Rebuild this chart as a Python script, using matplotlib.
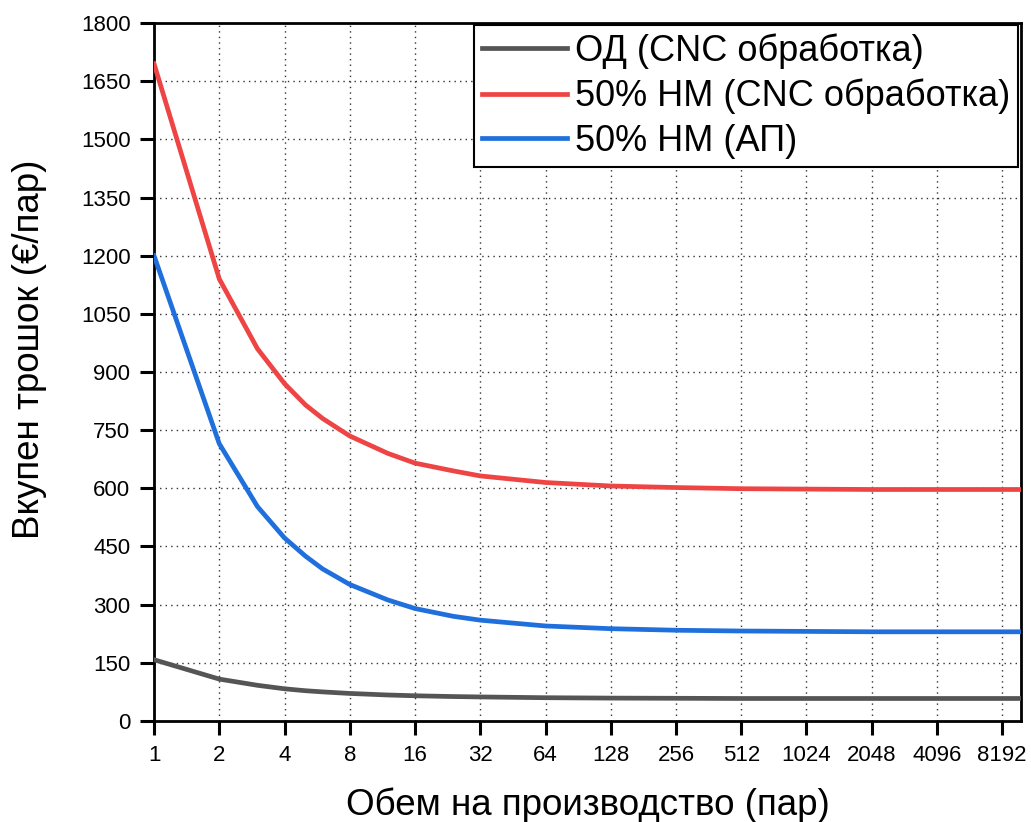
import matplotlib
matplotlib.use("Agg")
import matplotlib.pyplot as plt
from matplotlib.ticker import FixedLocator, FixedFormatter, NullLocator

plt.rcParams['font.family'] = ['Liberation Sans', 'DejaVu Sans']

volume = [1, 2, 3, 4, 5, 6, 8, 12, 16, 24, 32, 64, 128, 256, 512, 1024, 2048, 4096, 8192, 10000]
od_cnc = [158, 108, 92, 83, 78, 75, 71, 67, 65, 63, 62, 60, 59, 58.5, 58, 58, 58, 58, 58, 58]
nm_cnc = [1695, 1140, 960, 870, 815, 780, 735, 690, 665, 645, 632, 615, 606, 602, 599, 598, 597, 597, 597, 597]
nm_ap = [1200, 715, 553, 472, 425, 392, 352, 312, 290, 270, 260, 245, 238, 234, 232, 231, 230, 230, 230, 230]

series_labels = ["ОД (CNC обработка)", "50% НМ (CNC обработка)", "50% НМ (АП)"]
x_ticks = [1, 2, 4, 8, 16, 32, 64, 128, 256, 512, 1024, 2048, 4096, 8192]
y_ticks = list(range(0, 1801, 150))

fig = plt.figure(figsize=(10.31, 8.22), dpi=100)
ax = fig.add_axes([0.1494, 0.1229, 0.8409, 0.8491])

ax.plot(volume, od_cnc, color="#555555", lw=3.4, label=series_labels[0], zorder=3)
ax.plot(volume, nm_cnc, color="#EE4444", lw=3.4, label=series_labels[1], zorder=3)
ax.plot(volume, nm_ap, color="#1F6FDC", lw=3.4, label=series_labels[2], zorder=3)

ax.set_xscale("log", base=2)
ax.set_xlim(1, 10000)
ax.set_ylim(0, 1800)
ax.xaxis.set_major_locator(FixedLocator(x_ticks))
ax.xaxis.set_major_formatter(FixedFormatter([str(t) for t in x_ticks]))
ax.xaxis.set_minor_locator(NullLocator())
ax.set_yticks(y_ticks)
ax.set_yticklabels([str(t) for t in y_ticks])

ax.grid(True, which="major", linestyle=(0, (1, 3)), color="#333333", linewidth=1.0)
ax.set_axisbelow(True)

for s in ax.spines.values():
    s.set_linewidth(2)
ax.tick_params(axis="both", which="major", direction="out", length=10, width=2.2,
               labelsize=16, pad=7)

ax.set_xlabel("Обем на производство (пар)", fontsize=26.5, labelpad=16)
ax.set_ylabel("Вкупен трошок (€/пар)", fontsize=26.5)
ax.yaxis.set_label_coords(-0.124, 0.533)

leg = ax.legend(loc="upper right", bbox_to_anchor=(0.9965, 0.9965), fontsize=26,
                frameon=True, fancybox=False, edgecolor="black", framealpha=1,
                handlelength=2.35, handletextpad=0.22, borderpad=0.22,
                labelspacing=0.27, borderaxespad=0)
leg.get_frame().set_linewidth(1.5)

fig.savefig("out.png", dpi=100)
